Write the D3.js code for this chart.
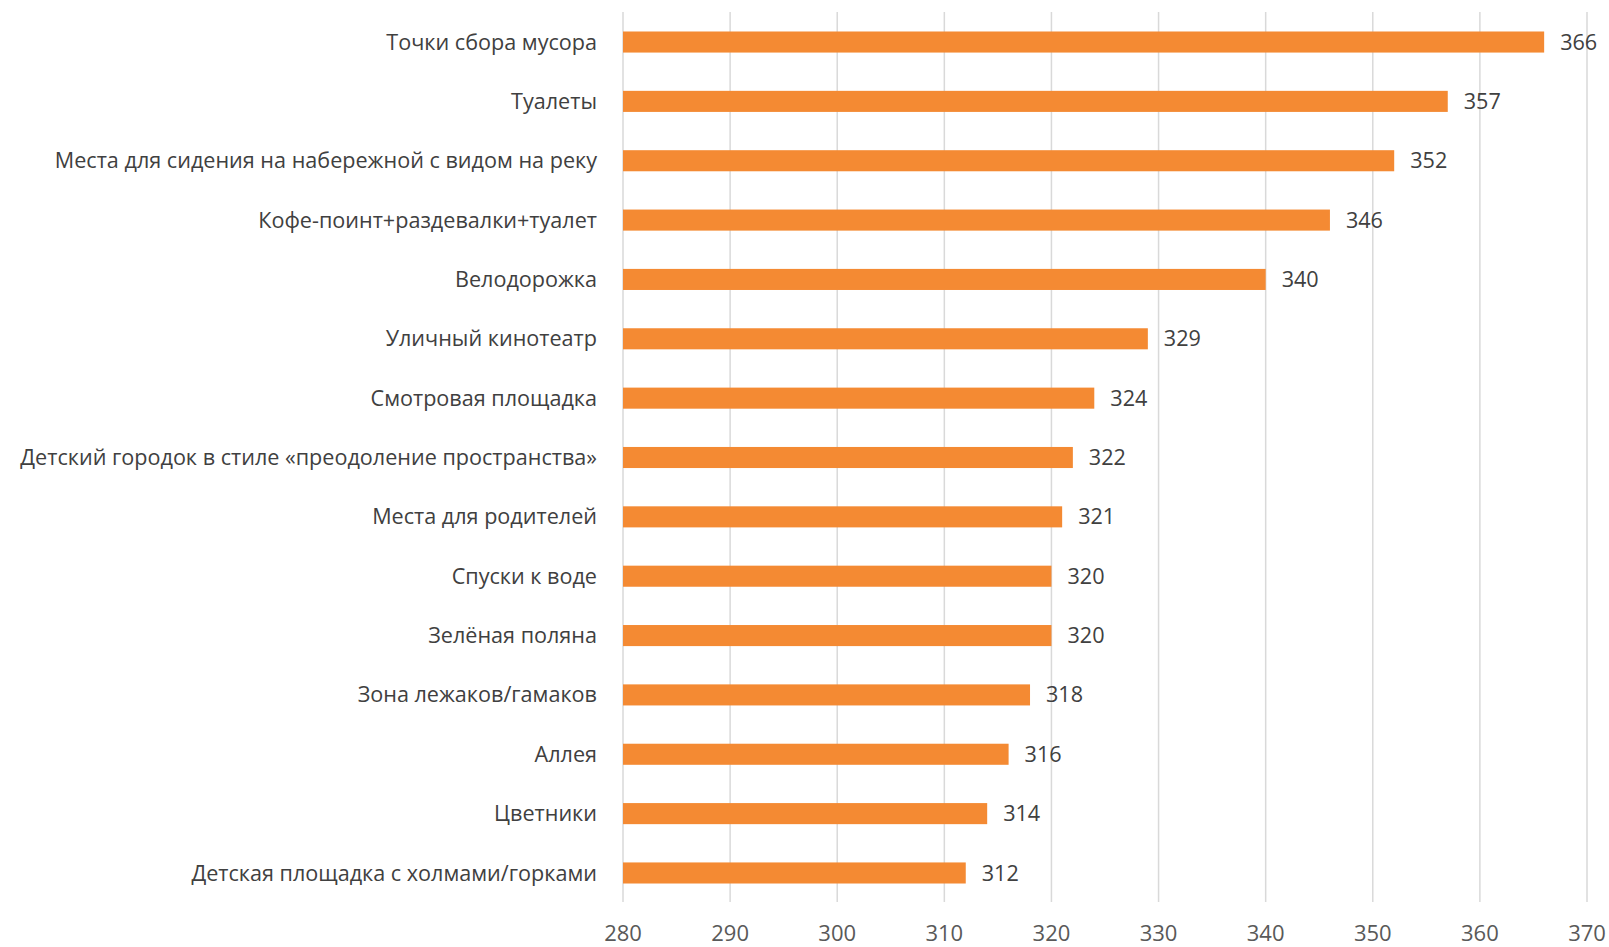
<!DOCTYPE html>
<html>
<head>
<meta charset="utf-8">
<script src="https://cdn.jsdelivr.net/npm/d3@7"></script>
<style>
  body { margin: 0; background: #fff; }
  text { font-family: "Open Sans", "Noto Sans", sans-serif; }
</style>
</head>
<body>
<svg id="mysvg" width="1609" height="947"></svg>
<script>
let categories = [
    "Точки сбора мусора",
    "Туалеты",
    "Места для сидения на набережной с видом на реку",
    "Кофе-поинт+раздевалки+туалет",
    "Велодорожка",
    "Уличный кинотеатр",
    "Смотровая площадка",
    "Детский городок в стиле «преодоление пространства»",
    "Места для родителей",
    "Спуски к воде",
    "Зелёная поляна",
    "Зона лежаков/гамаков",
    "Аллея",
    "Цветники",
    "Детская площадка с холмами/горками"
];
let values = [366, 357, 352, 346, 340, 329, 324, 322, 321, 320, 320, 318, 316, 314, 312];
let tickValues = [280, 290, 300, 310, 320, 330, 340, 350, 360, 370];

let svg = d3.select('#mysvg');

let x = d3.scaleLinear().domain([280, 370]).range([623, 1587]);
let y = d3.scaleBand().domain(categories).range([12.5, 902.5]).paddingInner(0.645).paddingOuter(0.32);

// gridlines
svg.append("g")
    .selectAll("line")
    .data(tickValues)
    .enter()
    .append("line")
    .attr("x1", d => x(d)).attr("x2", d => x(d))
    .attr("y1", 12).attr("y2", 902)
    .attr("stroke", "#d9d9d9")
    .attr("stroke-width", 1.5);

// tick labels
svg.append("g")
    .selectAll("text")
    .data(tickValues)
    .enter()
    .append("text")
    .attr("x", d => x(d))
    .attr("y", 941)
    .attr("text-anchor", "middle")
    .attr("font-size", 22)
    .attr("fill", "#595959")
    .text(d => d);

// bars
let bars = svg.selectAll("g.bar")
    .data(categories.map((c, i) => ({name: c, value: values[i]})))
    .enter()
    .append("g")
    .attr("class", "bar");

bars.append("rect")
    .attr("x", x(280))
    .attr("y", d => y(d.name))
    .attr("width", d => x(d.value) - x(280))
    .attr("height", y.bandwidth())
    .attr("fill", "#f48a33");

// category labels
bars.append("text")
    .attr("x", 597)
    .attr("y", d => y(d.name) + y.bandwidth() / 2)
    .attr("dy", "0.35em")
    .attr("text-anchor", "end")
    .attr("font-size", 21.6)
    .attr("fill", "#404040")
    .text(d => d.name);

// value labels
bars.append("text")
    .attr("x", d => x(d.value) + 16)
    .attr("y", d => y(d.name) + y.bandwidth() / 2)
    .attr("dy", "0.35em")
    .attr("font-size", 21.6)
    .attr("fill", "#404040")
    .text(d => d.value);
</script>
</body>
</html>
